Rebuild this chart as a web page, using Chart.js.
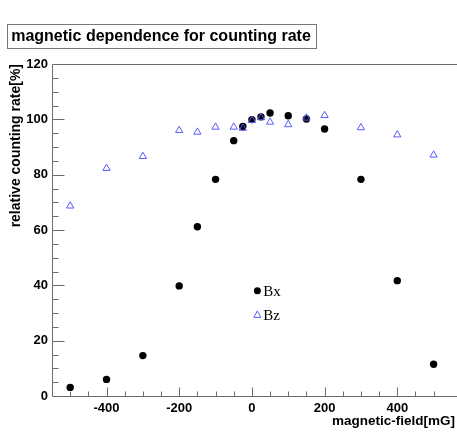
<!DOCTYPE html>
<html>
<head>
<meta charset="utf-8">
<script src="https://cdn.jsdelivr.net/npm/chart.js@4"></script>
<style>
  html, body { margin: 0; padding: 0; background: #fff; }
  #wrap { width: 457px; height: 435px; position: relative; }
</style>
</head>
<body>
<div id="wrap"><canvas id="c" width="457" height="435"></canvas></div>
<script>
// Magnetic field settings [mG]
const fieldValues = [-500, -400, -300, -200, -150, -100, -50, -25, 0, 25, 50, 100, 150, 200, 300, 400, 500];
// Relative counting rate [%] with the field along x
const bxRate = [3.1, 6.0, 14.6, 39.8, 61.2, 78.3, 92.3, 97.4, 99.9, 100.9, 102.3, 101.3, 100.1, 96.5, 78.3, 41.7, 11.5];
// Relative counting rate [%] with the field along z
const bzRate = [68.7, 82.3, 86.6, 96.0, 95.4, 97.2, 97.2, 96.8, 99.6, 100.6, 99.0, 98.1, 100.5, 101.4, 97.0, 94.4, 87.1];

const xTickLabels = [-400, -200, 0, 200, 400];
const yTickLabels = [0, 20, 40, 60, 80, 100, 120];

const titleText = 'magnetic dependence for counting rate';
const xAxisTitle = 'magnetic-field[mG]';
const yAxisTitle = 'relative counting rate[%]';
const legendLabels = ['Bx', 'Bz'];

const blue = 'rgb(90,90,255)';
const axisColor = '#6a6a6a';
const tickFont = { family: 'Liberation Sans, Arial, sans-serif', size: 13, weight: 'bold' };

function toPoints(xs, ys) { return xs.map((x, i) => ({ x: x, y: ys[i] })); }

// Frame lines, inward ticks, axis titles, title box and legend
const decorations = {
  id: 'decorations',
  afterDatasetsDraw(chart) {
    const ctx = chart.ctx;
    const a = chart.chartArea;
    const xs = chart.scales.x, ys = chart.scales.y;
    const L = Math.round(a.left) + 0.5, T = Math.round(a.top) + 0.5, B = Math.round(a.bottom) + 0.5;
    ctx.save();
    ctx.strokeStyle = axisColor;
    ctx.lineWidth = 1;
    ctx.beginPath();
    // left, top and bottom frame lines
    ctx.moveTo(L, T); ctx.lineTo(chart.width, T);
    ctx.moveTo(L, T); ctx.lineTo(L, B);
    ctx.moveTo(L, B); ctx.lineTo(chart.width, B);
    // x ticks every 50, longer on labelled values
    for (let v = -550; v <= 550; v += 50) {
      const px = Math.round(xs.getPixelForValue(v)) + 0.5;
      if (px <= a.left + 1 || px >= a.right - 1) continue;
      const len = (v % 200 === 0) ? 9 : 5;
      ctx.moveTo(px, B);
      ctx.lineTo(px, B - len);
    }
    // y ticks every 5, longer on labelled values
    for (let v = 5; v < 120; v += 5) {
      const py = Math.round(ys.getPixelForValue(v)) + 0.5;
      const len = (v % 20 === 0) ? 12 : 6;
      ctx.moveTo(L, py);
      ctx.lineTo(L + len, py);
    }
    ctx.stroke();

    // axis titles
    ctx.fillStyle = '#000';
    ctx.font = 'bold 13.5px Liberation Sans, Arial, sans-serif';
    ctx.textAlign = 'right';
    ctx.textBaseline = 'alphabetic';
    ctx.fillText(xAxisTitle, 455, 425);
    ctx.save();
    ctx.translate(20, a.top);
    ctx.rotate(-Math.PI / 2);
    ctx.font = 'bold 14px Liberation Sans, Arial, sans-serif';
    ctx.textAlign = 'right';
    ctx.fillText(yAxisTitle, 0, 0);
    ctx.restore();

    // title box
    ctx.fillStyle = '#fff';
    ctx.fillRect(7, 24, 309, 24);
    ctx.strokeStyle = '#777';
    ctx.strokeRect(7.5, 24.5, 309, 24);
    ctx.fillStyle = '#000';
    ctx.font = 'bold 16px Liberation Sans, Arial, sans-serif';
    ctx.textAlign = 'center';
    ctx.textBaseline = 'middle';
    ctx.fillText(titleText, 161, 37);

    // legend anchored in data space
    const lx = xs.getPixelForValue(15);
    const ly = ys.getPixelForValue(38);
    ctx.font = '15px Liberation Serif, Times New Roman, serif';
    ctx.textAlign = 'left';
    ctx.textBaseline = 'middle';
    ctx.fillStyle = '#000';
    ctx.beginPath();
    ctx.arc(lx, ly, 3.5, 0, Math.PI * 2);
    ctx.fill();
    ctx.fillText(legendLabels[0], lx + 6, ly + 1);
    const ty = ly + 24;
    ctx.strokeStyle = blue;
    ctx.beginPath();
    ctx.moveTo(lx, ty - 4);
    ctx.lineTo(lx + 3.5, ty + 2.5);
    ctx.lineTo(lx - 3.5, ty + 2.5);
    ctx.closePath();
    ctx.stroke();
    ctx.fillText(legendLabels[1], lx + 6, ty + 1);
    ctx.restore();
  }
};

new Chart(document.getElementById('c'), {
  type: 'scatter',
  data: {
    datasets: [
      {
        label: legendLabels[1],
        data: toPoints(fieldValues, bzRate),
        pointStyle: 'triangle',
        pointRadius: 4.2,
        pointBackgroundColor: 'rgba(0,0,0,0)',
        pointBorderColor: blue,
        pointBorderWidth: 1,
        order: 0
      },
      {
        label: legendLabels[0],
        data: toPoints(fieldValues, bxRate),
        pointStyle: 'circle',
        pointRadius: 3.7,
        pointBackgroundColor: '#000',
        pointBorderColor: '#000',
        pointBorderWidth: 0,
        order: 1
      }
    ]
  },
  options: {
    responsive: false,
    animation: false,
    devicePixelRatio: 1,
    layout: { padding: { top: 64, left: 0, right: 0, bottom: 0 } },
    plugins: { legend: { display: false }, tooltip: { enabled: false }, title: { display: false } },
    scales: {
      x: {
        type: 'linear',
        min: -550,
        max: 550,
        grid: { display: false, drawTicks: false },
        border: { display: false },
        afterBuildTicks(scale) { scale.ticks = xTickLabels.map(v => ({ value: v })); },
        afterFit(scale) { scale.height = 39; },
        ticks: { color: '#000', font: tickFont, padding: 5, maxRotation: 0, autoSkip: false }
      },
      y: {
        type: 'linear',
        min: 0,
        max: 120,
        grid: { display: false, drawTicks: false },
        border: { display: false },
        afterBuildTicks(scale) { scale.ticks = yTickLabels.map(v => ({ value: v })); },
        afterFit(scale) { scale.width = 52; },
        ticks: { color: '#000', font: tickFont, padding: 4, autoSkip: false }
      }
    }
  },
  plugins: [decorations]
});
</script>
</body>
</html>
